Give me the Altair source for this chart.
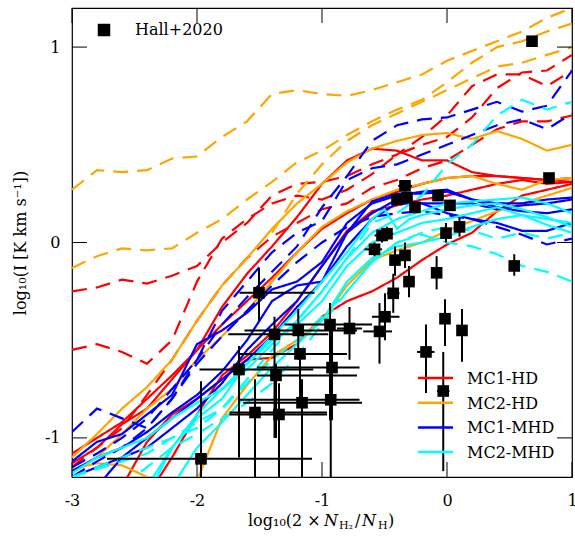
import altair as alt
import pandas as pd

# ---------------------------------------------------------------- model curves
XG = [-3.0, -2.8, -2.6, -2.4, -2.2, -2.0, -1.8, -1.6, -1.4, -1.2, -1.0,
      -0.8, -0.6, -0.4, -0.2, 0.0, 0.2, 0.4, 0.6, 0.8, 1.0]


def grid_from(start):
    return [v for v in XG if v >= start - 1e-9]


MODELS = ["MC1-HD", "MC2-HD", "MC1-MHD", "MC2-MHD"]
COLORS = ["#ff0000", "#ffa500", "#0000ff", "#00ffff"]

# MC1-HD
hd1_s_a = [-1.13, -1.05, -0.93, -0.85, -0.70, -0.55, -0.33, -0.16, -0.02, 0.13, 0.30,
           0.42, 0.48, 0.47, 0.42, 0.42, 0.36, 0.34, 0.33, 0.32, 0.31]
hd1_s_b = [-1.08, -1.00, -0.92, -0.80, -0.68, -0.55, -0.42, -0.30, -0.18, -0.05, 0.07,
           0.15, 0.22, 0.26, 0.30, 0.33, 0.34, 0.34, 0.33, 0.32, 0.33]
hd1_s_c = [-1.30, -1.10, -0.88, -0.68, -0.58, -0.46, -0.30, -0.12, 0.06, 0.16, 0.19,
           0.22, 0.24, 0.27, 0.30, 0.32, 0.30, 0.31]
hd1_s_d = [-1.25, -1.02, -0.88, -0.80, -0.70, -0.60, -0.59, -0.52, -0.38, -0.30, -0.25,
           -0.18, -0.09, -0.01, 0.05, 0.16, 0.24, 0.27, 0.30]
hd1_d_a = [-0.25, -0.23, -0.19, -0.21, -0.17, -0.12, 0.00, 0.10, 0.24, 0.30, 0.31,
           0.34, 0.40, 0.45, 0.54, 0.65, 0.80, 0.86, 0.86, 0.80, 0.88]
hd1_d_b = [-0.55, -0.52, -0.56, -0.62, -0.50, -0.20, 0.02, 0.12, 0.20, 0.24, 0.22,
           0.27, 0.35, 0.45, 0.50, 0.54, 0.64, 0.79, 0.87, 0.88, 0.96]
hd1_d_c = [-1.15, -1.05, -0.95, -0.78, -0.60, -0.40, -0.22, -0.08, 0.03, 0.10, 0.17,
           0.20, 0.28, 0.32, 0.38, 0.42, 0.50, 0.58, 0.62, 0.62, 0.65]

# MC2-HD
hd2_s_a = [-1.10, -0.98, -0.85, -0.74, -0.60, -0.40, -0.22, -0.08, 0.07, 0.20, 0.30,
           0.41, 0.48, 0.52, 0.55, 0.56, 0.53, 0.57, 0.53, 0.47, 0.50]
hd2_s_b = [-1.18, -1.10, -0.98, -0.85, -0.75, -0.60, -0.48, -0.35, -0.20, -0.05, 0.08,
           0.16, 0.22, 0.27, 0.30, 0.33, 0.34, 0.30, 0.27, 0.32, 0.33]
hd2_s_c = [-1.16, -1.13, -1.14, -1.20, -1.35, -1.22, -0.90, -0.73, -0.58, -0.50, -0.40,
           -0.22, -0.09, -0.04, 0.00, 0.06, 0.11, 0.16, 0.20, 0.24, 0.28]
hd2_d_a = [0.27, 0.37, 0.36, 0.37, 0.43, 0.44, 0.54, 0.62, 0.76, 0.78, 0.76,
           0.75, 0.78, 0.82, 0.86, 0.93, 0.98, 1.03, 1.08, 1.15, 1.20]
hd2_d_b = [-0.13, -0.07, -0.03, -0.04, -0.03, 0.05, 0.12, 0.22, 0.31, 0.41, 0.47,
           0.55, 0.62, 0.68, 0.73, 0.82, 0.92, 1.00, 1.03, 1.08, 1.12]
hd2_d_c = [0.05, 0.25, 0.40, 0.52, 0.60, 0.66, 0.72, 0.78, 0.84, 0.90, 0.92, 0.96, 1.00]

# MC1-MHD
mhd1_s_a = [-1.12, -1.02, -0.98, -0.88, -0.78, -0.52, -0.45, -0.36, -0.24, -0.20, -0.10,
            0.10, 0.20, 0.24, 0.26, 0.27, 0.22, 0.20, 0.20, 0.22, 0.23]
mhd1_s_b = [-1.17, -1.10, -1.05, -0.97, -0.87, -0.78, -0.66, -0.50, -0.30, -0.22, -0.20,
            0.05, 0.21, 0.25, 0.25, 0.26, 0.22, 0.18, 0.16, 0.15, 0.17]
mhd1_s_c = [-1.20, -1.15, -1.10, -1.00, -0.90, -0.80, -0.70, -0.60, -0.48, -0.33, -0.20,
            -0.02, 0.12, 0.20, 0.20, 0.15, 0.12, 0.10, 0.06, 0.06, 0.10]
mhd1_s_d = [-1.25, -1.10, -1.05, -0.95, -0.85, -0.72, -0.55, -0.42, -0.30, -0.12, 0.05,
            0.15, 0.22, 0.20, 0.20, 0.20, 0.17, 0.19, 0.20, 0.22]
mhd1_d_a = [-0.97, -0.85, -0.90, -0.95, -0.80, -0.60, -0.42, -0.28, -0.15, -0.02, 0.18,
            0.34, 0.52, 0.60, 0.63, 0.64, 0.68, 0.72, 0.67, 0.70, 0.88]
mhd1_d_b = [-1.15, -1.08, -1.00, -0.90, -0.75, -0.60, -0.35, -0.20, -0.05, 0.05, 0.11,
            0.32, 0.38, 0.40, 0.45, 0.50, 0.55, 0.60, 0.63, 0.58, 0.66]
mhd1_d_c = [-1.20, -1.12, -1.05, -0.95, -0.80, -0.62, -0.48, -0.35, -0.22, -0.10, 0.00,
            0.08, 0.13, 0.15, 0.16, 0.14, 0.12, 0.08, 0.04, -0.01, 0.02]

# MC2-MHD
mhd2_s_a = [-1.18, -1.10, -1.05, -1.00, -0.90, -0.82, -0.75, -0.65, -0.52, -0.40, -0.25,
            -0.08, 0.05, 0.12, 0.16, 0.20, 0.21, 0.22, 0.23, 0.20, 0.15]
mhd2_s_b_x = [-2.4, -2.2, -2.0, -1.8, -1.6, -1.4, -1.2, -1.0, -0.8, -0.6, -0.5, -0.4,
              -0.3, -0.2, 0.0, 0.2, 0.4, 0.6, 0.8, 1.0]
mhd2_s_b = [-1.25, -1.05, -0.90, -0.80, -0.62, -0.48, -0.35, -0.20, -0.05, 0.12, 0.17,
            0.07, 0.12, 0.14, 0.17, 0.19, 0.20, 0.17, 0.13, 0.08]
mhd2_s_c = [-1.25, -1.05, -0.92, -0.78, -0.64, -0.52, -0.40, -0.20, -0.08, -0.02, 0.00,
            0.03, 0.08, 0.12, 0.14, 0.12, 0.10]
mhd2_s_d = [-1.30, -1.05, -0.88, -0.75, -0.62, -0.50, -0.42, -0.30, -0.12, 0.00, 0.05,
            0.10, 0.12, 0.15, 0.18, 0.14, 0.09, 0.05]
mhd2_d_a = [-1.20, -1.15, -1.10, -1.05, -1.00, -0.95, -0.85, -0.70, -0.55, -0.40, -0.25,
            -0.08, 0.10, 0.15, 0.24, 0.40, 0.50, 0.65, 0.73, 0.68, 0.72]
mhd2_d_b = [-1.20, -1.16, -1.12, -1.08, -1.00, -0.92, -0.85, -0.72, -0.60, -0.50, -0.38,
            -0.25, -0.10, 0.00, 0.04, 0.00, -0.02, -0.06, -0.12, -0.15, -0.20]
mhd2_d_c = [-1.25, -1.15, -1.05, -0.98, -0.90, -0.82, -0.72, -0.58, -0.42, -0.25, -0.10,
            0.00, 0.05, 0.08, 0.06, 0.02, 0.05, 0.02, 0.05]

CURVES = [
    ("MC1-HD", "solid", XG, hd1_s_a),
    ("MC1-HD", "solid", XG, hd1_s_b),
    ("MC1-HD", "solid", grid_from(-2.4), hd1_s_c),
    ("MC1-HD", "solid", grid_from(-2.6), hd1_s_d),
    ("MC1-HD", "dashed", XG, hd1_d_a),
    ("MC1-HD", "dashed", XG, hd1_d_b),
    ("MC1-HD", "dashed", XG, hd1_d_c),
    ("MC2-HD", "solid", XG, hd2_s_a),
    ("MC2-HD", "solid", XG, hd2_s_b),
    ("MC2-HD", "solid", XG, hd2_s_c),
    ("MC2-HD", "dashed", XG, hd2_d_a),
    ("MC2-HD", "dashed", XG, hd2_d_b),
    ("MC2-HD", "dashed", grid_from(-1.4), hd2_d_c),
    ("MC1-MHD", "solid", XG, mhd1_s_a),
    ("MC1-MHD", "solid", XG, mhd1_s_b),
    ("MC1-MHD", "solid", XG, mhd1_s_c),
    ("MC1-MHD", "solid", grid_from(-2.8), mhd1_s_d),
    ("MC1-MHD", "dashed", XG, mhd1_d_a),
    ("MC1-MHD", "dashed", XG, mhd1_d_b),
    ("MC1-MHD", "dashed", XG, mhd1_d_c),
    ("MC2-MHD", "solid", XG, mhd2_s_a),
    ("MC2-MHD", "solid", mhd2_s_b_x, mhd2_s_b),
    ("MC2-MHD", "solid", grid_from(-2.2), mhd2_s_c),
    ("MC2-MHD", "solid", grid_from(-2.4), mhd2_s_d),
    ("MC2-MHD", "dashed", XG, mhd2_d_a),
    ("MC2-MHD", "dashed", XG, mhd2_d_b),
    ("MC2-MHD", "dashed", grid_from(-2.6), mhd2_d_c),
]

rows = []
for k, (model, style, xs, ys) in enumerate(CURVES):
    assert len(xs) == len(ys), (k, len(xs), len(ys))
    for i, (xv, yv) in enumerate(zip(xs, ys)):
        rows.append({"line": k, "idx": i, "model": model, "style": style, "x": xv, "y": yv})
lines_df = pd.DataFrame(rows)

# ---------------------------------------------------------------- Hall+2020 data
hall_x = [0.68, 0.816, -0.336, -0.40, -0.32, -0.256, -0.072, 0.024, -0.008, 0.10,
          -0.52, -0.48, -0.58, -0.416, -0.336, -0.304, -0.43, -0.083, 0.538, -0.496,
          -0.54, -0.016, 0.12, -0.168, -0.03, -0.78, -0.936, -1.19, -1.176, -0.92,
          -0.93, -1.16, -1.504, -1.38, -1.664, -1.368, -1.536, -1.344, -1.968]
hall_y = [1.03, 0.33, 0.29, 0.22, 0.23, 0.18, 0.24, 0.19, 0.048, 0.08,
          0.036, 0.045, -0.035, -0.09, -0.066, -0.20, -0.26, -0.155, -0.12, -0.38,
          -0.455, -0.39, -0.45, -0.56, -0.76, -0.44, -0.42, -0.45, -0.57, -0.64,
          -0.805, -0.82, -0.257, -0.47, -0.65, -0.68, -0.87, -0.88, -1.107]
hall_xlo = [0.66, 0.80, -0.39, -0.44, -0.35, -0.28, -0.09, 0.01, -0.03, 0.08,
            -0.58, -0.53, -0.66, -0.45, -0.37, -0.35, -0.48, -0.10, 0.51, -0.60,
            -0.67, -0.04, 0.10, -0.24, -0.08, -0.88, -1.30, -1.62, -1.66, -1.52,
            -1.66, -1.63, -1.66, -1.75, -1.98, -1.52, -1.74, -1.74, -2.72]
hall_xhi = [0.70, 0.83, -0.28, -0.36, -0.29, -0.23, -0.05, 0.04, 0.015, 0.12,
            -0.46, -0.43, -0.52, -0.38, -0.30, -0.26, -0.38, -0.065, 0.56, -0.38,
            -0.44, 0.01, 0.14, -0.10, 0.02, -0.68, -0.60, -0.72, -0.80, -0.70,
            -0.70, -0.68, -1.06, -0.95, -1.07, -0.72, -0.96, -0.96, -1.08]
hall_ylo = [1.01, 0.31, 0.26, 0.20, 0.21, 0.15, 0.22, 0.17, 0.00, 0.03,
            0.00, 0.01, -0.07, -0.17, -0.13, -0.28, -0.36, -0.24, -0.17, -0.50,
            -0.62, -0.53, -0.61, -0.77, -1.17, -0.60, -0.91, -0.60, -0.79, -0.91,
            -1.20, -1.30, -0.40, -1.00, -1.10, -1.00, -1.30, -1.30, -1.40]
hall_yhi = [1.05, 0.35, 0.32, 0.25, 0.25, 0.21, 0.26, 0.21, 0.10, 0.13,
            0.07, 0.08, 0.00, -0.02, 0.00, -0.12, -0.16, -0.07, -0.06, -0.26,
            -0.31, -0.29, -0.34, -0.42, -0.56, -0.33, -0.31, -0.34, -0.54, -0.45,
            -0.65, -0.70, -0.13, -0.38, -0.53, -0.62, -0.70, -0.72, -0.71]
hall_df = pd.DataFrame({"x": hall_x, "y": hall_y, "xlo": hall_xlo, "xhi": hall_xhi,
                        "ylo": hall_ylo, "yhi": hall_yhi})

X_TICKS = [-3, -2, -1, 0, 1]
Y_TICKS = [-1, 0, 1]

# ---------------------------------------------------------------- layout
W, H = 500, 469
FONT = "DejaVu Serif"
LABEL_EXPR = "datum.value < 0 ? '-' + (-datum.value) : '' + datum.value"

xs = alt.Scale(domain=[-3, 1], nice=False, zero=False)
ys = alt.Scale(domain=[-1.2, 1.2], nice=False, zero=False)

x_axis = alt.Axis(values=X_TICKS, ticks=False, tickSize=0, domain=False, grid=False,
                  title=None, labelFont=FONT, labelFontSize=16, labelColor="black",
                  labelPadding=15, labelFlush=False, labelOverlap=False,
                  labelExpr=LABEL_EXPR)
y_axis = alt.Axis(values=Y_TICKS, ticks=False, tickSize=0, domain=False, grid=False,
                  title=None, labelFont=FONT, labelFontSize=16, labelColor="black",
                  labelPadding=12, labelFlush=False, labelOverlap=False,
                  labelExpr=LABEL_EXPR)

curves = alt.Chart(lines_df).mark_line(strokeWidth=2.2, clip=True).encode(
    x=alt.X("x:Q", scale=xs, axis=x_axis),
    y=alt.Y("y:Q", scale=ys, axis=y_axis),
    color=alt.Color("model:N", scale=alt.Scale(domain=MODELS, range=COLORS), legend=None),
    strokeDash=alt.StrokeDash("style:N",
                              scale=alt.Scale(domain=["solid", "dashed"],
                                              range=[[1, 0], [15, 9]]),
                              legend=None),
    detail="line:N",
    order="idx:Q",
)

hbars = alt.Chart(hall_df).mark_rule(color="black", strokeWidth=2, clip=True).encode(
    x=alt.X("xlo:Q", scale=xs), x2="xhi:Q", y=alt.Y("y:Q", scale=ys))
vbars = alt.Chart(hall_df).mark_rule(color="black", strokeWidth=2, clip=True).encode(
    x=alt.X("x:Q", scale=xs), y=alt.Y("ylo:Q", scale=ys), y2="yhi:Q")
squares = alt.Chart(hall_df).mark_square(size=135, color="black", opacity=1,
                                         clip=True).encode(
    x=alt.X("x:Q", scale=xs), y=alt.Y("y:Q", scale=ys))

# inward ticks on all four sides
xt_df = pd.DataFrame({"v": X_TICKS})
yt_df = pd.DataFrame({"v": Y_TICKS})
tick_len = 15
tick_layers = [
    alt.Chart(xt_df).mark_rule(color="black", strokeWidth=1).encode(
        x=alt.X("v:Q", scale=xs), y=alt.value(H), y2=alt.value(H - tick_len)),
    alt.Chart(xt_df).mark_rule(color="black", strokeWidth=1).encode(
        x=alt.X("v:Q", scale=xs), y=alt.value(0), y2=alt.value(tick_len)),
    alt.Chart(yt_df).mark_rule(color="black", strokeWidth=1).encode(
        y=alt.Y("v:Q", scale=ys), x=alt.value(0), x2=alt.value(tick_len)),
    alt.Chart(yt_df).mark_rule(color="black", strokeWidth=1).encode(
        y=alt.Y("v:Q", scale=ys), x=alt.value(W), x2=alt.value(W - tick_len)),
]

one = pd.DataFrame({"a": [0]})


def text_at(label, x, y, size=16, align="left", baseline="middle", style="normal",
            angle=0):
    return alt.Chart(one).mark_text(text=label, font=FONT, fontSize=size, align=align,
                                    baseline=baseline, fontStyle=style, color="black",
                                    angle=angle).encode(x=alt.value(x), y=alt.value(y))


# model legend (lower right)
legend_layers = []
for i, (name, col) in enumerate(zip(MODELS, COLORS)):
    ly = 370 + i * 24.7
    legend_layers.append(
        alt.Chart(one).mark_rule(color=col, strokeWidth=2.5).encode(
            x=alt.value(346), x2=alt.value(381), y=alt.value(ly)))
    legend_layers.append(text_at(name, 395, ly + 1))

# observational legend (upper left)
legend_layers.append(
    alt.Chart(one).mark_square(size=156, color="black", opacity=1).encode(
        x=alt.value(32), y=alt.value(22)))
legend_layers.append(text_at("Hall+2020", 63, 22))

# axis titles
title_layers = [
    text_at("log₁₀(I [K km s⁻¹])", -46, 235, size=16, align="center",
            baseline="alphabetic", angle=270),
    text_at("log₁₀(2 ×", 176, 518, baseline="alphabetic"),
    text_at("N", 252, 518, baseline="alphabetic", style="italic"),
    text_at("H₂", 267, 521, size=11, baseline="alphabetic"),
    text_at("/", 283, 518, baseline="alphabetic"),
    text_at("N", 290, 518, baseline="alphabetic", style="italic"),
    text_at("H", 306, 521, size=11, baseline="alphabetic"),
    text_at(")", 316, 518, baseline="alphabetic"),
]

chart = alt.layer(
    curves, hbars, vbars, squares, *tick_layers, *legend_layers, *title_layers
).properties(
    width=W, height=H,
    padding={"left": 72, "top": 8, "right": 3, "bottom": 61},
    autosize=alt.AutoSizeParams(type="none"),
    background="white",
).configure_view(stroke="black", strokeWidth=1.2)

chart.save("out.html", embed_options={"renderer": "svg", "actions": False})
